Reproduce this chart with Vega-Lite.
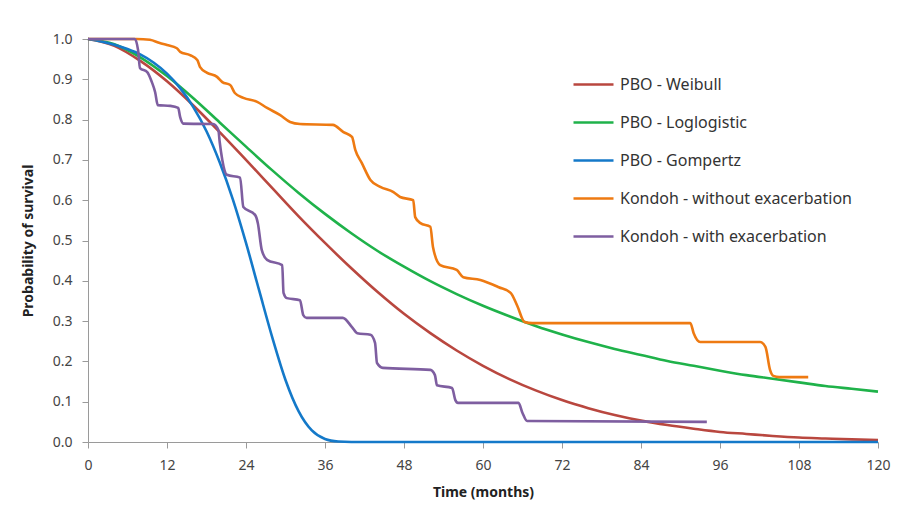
{
  "$schema": "https://vega.github.io/schema/vega-lite/v6.json",
  "width": 790,
  "height": 403,
  "autosize": {"type": "none"},
  "padding": {"left": 88, "top": 39, "right": 30, "bottom": 65},
  "background": "white",
  "config": {
    "view": {"stroke": null},
    "font": "Noto Sans"
  },
  "data": {
    "values": [
      {"series": "PBO - Weibull", "t": 0, "s": 1.0},
      {"series": "PBO - Weibull", "t": 4, "s": 0.983},
      {"series": "PBO - Weibull", "t": 8, "s": 0.945},
      {"series": "PBO - Weibull", "t": 12, "s": 0.895},
      {"series": "PBO - Weibull", "t": 16, "s": 0.835},
      {"series": "PBO - Weibull", "t": 20, "s": 0.769},
      {"series": "PBO - Weibull", "t": 24, "s": 0.700},
      {"series": "PBO - Weibull", "t": 28, "s": 0.630},
      {"series": "PBO - Weibull", "t": 32, "s": 0.560},
      {"series": "PBO - Weibull", "t": 36, "s": 0.494},
      {"series": "PBO - Weibull", "t": 40, "s": 0.431},
      {"series": "PBO - Weibull", "t": 44, "s": 0.372},
      {"series": "PBO - Weibull", "t": 48, "s": 0.318},
      {"series": "PBO - Weibull", "t": 52, "s": 0.270},
      {"series": "PBO - Weibull", "t": 56, "s": 0.227},
      {"series": "PBO - Weibull", "t": 60, "s": 0.189},
      {"series": "PBO - Weibull", "t": 64, "s": 0.156},
      {"series": "PBO - Weibull", "t": 68, "s": 0.128},
      {"series": "PBO - Weibull", "t": 72, "s": 0.104},
      {"series": "PBO - Weibull", "t": 76, "s": 0.084},
      {"series": "PBO - Weibull", "t": 80, "s": 0.067},
      {"series": "PBO - Weibull", "t": 84, "s": 0.053},
      {"series": "PBO - Weibull", "t": 88, "s": 0.042},
      {"series": "PBO - Weibull", "t": 92, "s": 0.033},
      {"series": "PBO - Weibull", "t": 96, "s": 0.025},
      {"series": "PBO - Weibull", "t": 100, "s": 0.020},
      {"series": "PBO - Weibull", "t": 104, "s": 0.015},
      {"series": "PBO - Weibull", "t": 108, "s": 0.011},
      {"series": "PBO - Weibull", "t": 112, "s": 0.0087},
      {"series": "PBO - Weibull", "t": 116, "s": 0.0065},
      {"series": "PBO - Weibull", "t": 120, "s": 0.005},

      {"series": "PBO - Loglogistic", "t": 0, "s": 1.0},
      {"series": "PBO - Loglogistic", "t": 4, "s": 0.987},
      {"series": "PBO - Loglogistic", "t": 8, "s": 0.954},
      {"series": "PBO - Loglogistic", "t": 12, "s": 0.908},
      {"series": "PBO - Loglogistic", "t": 16, "s": 0.853},
      {"series": "PBO - Loglogistic", "t": 20, "s": 0.793},
      {"series": "PBO - Loglogistic", "t": 24, "s": 0.733},
      {"series": "PBO - Loglogistic", "t": 28, "s": 0.674},
      {"series": "PBO - Loglogistic", "t": 32, "s": 0.618},
      {"series": "PBO - Loglogistic", "t": 36, "s": 0.566},
      {"series": "PBO - Loglogistic", "t": 40, "s": 0.518},
      {"series": "PBO - Loglogistic", "t": 44, "s": 0.474},
      {"series": "PBO - Loglogistic", "t": 48, "s": 0.435},
      {"series": "PBO - Loglogistic", "t": 52, "s": 0.399},
      {"series": "PBO - Loglogistic", "t": 56, "s": 0.367},
      {"series": "PBO - Loglogistic", "t": 60, "s": 0.338},
      {"series": "PBO - Loglogistic", "t": 64, "s": 0.312},
      {"series": "PBO - Loglogistic", "t": 68, "s": 0.288},
      {"series": "PBO - Loglogistic", "t": 72, "s": 0.267},
      {"series": "PBO - Loglogistic", "t": 76, "s": 0.248},
      {"series": "PBO - Loglogistic", "t": 80, "s": 0.231},
      {"series": "PBO - Loglogistic", "t": 84, "s": 0.216},
      {"series": "PBO - Loglogistic", "t": 88, "s": 0.201},
      {"series": "PBO - Loglogistic", "t": 92, "s": 0.189},
      {"series": "PBO - Loglogistic", "t": 96, "s": 0.177},
      {"series": "PBO - Loglogistic", "t": 100, "s": 0.166},
      {"series": "PBO - Loglogistic", "t": 104, "s": 0.157},
      {"series": "PBO - Loglogistic", "t": 108, "s": 0.148},
      {"series": "PBO - Loglogistic", "t": 112, "s": 0.139},
      {"series": "PBO - Loglogistic", "t": 116, "s": 0.132},
      {"series": "PBO - Loglogistic", "t": 120, "s": 0.125},

      {"series": "PBO - Gompertz", "t": 0, "s": 1.0},
      {"series": "PBO - Gompertz", "t": 2, "s": 0.994},
      {"series": "PBO - Gompertz", "t": 4, "s": 0.986},
      {"series": "PBO - Gompertz", "t": 6, "s": 0.975},
      {"series": "PBO - Gompertz", "t": 8, "s": 0.961},
      {"series": "PBO - Gompertz", "t": 10, "s": 0.941},
      {"series": "PBO - Gompertz", "t": 12, "s": 0.914},
      {"series": "PBO - Gompertz", "t": 14, "s": 0.878},
      {"series": "PBO - Gompertz", "t": 16, "s": 0.831},
      {"series": "PBO - Gompertz", "t": 18, "s": 0.771},
      {"series": "PBO - Gompertz", "t": 20, "s": 0.694},
      {"series": "PBO - Gompertz", "t": 22, "s": 0.602},
      {"series": "PBO - Gompertz", "t": 24, "s": 0.494},
      {"series": "PBO - Gompertz", "t": 26, "s": 0.376},
      {"series": "PBO - Gompertz", "t": 28, "s": 0.259},
      {"series": "PBO - Gompertz", "t": 30, "s": 0.154},
      {"series": "PBO - Gompertz", "t": 32, "s": 0.076},
      {"series": "PBO - Gompertz", "t": 34, "s": 0.0286},
      {"series": "PBO - Gompertz", "t": 36, "s": 0.0074},
      {"series": "PBO - Gompertz", "t": 38, "s": 0.0012},
      {"series": "PBO - Gompertz", "t": 40, "s": 0.0},
      {"series": "PBO - Gompertz", "t": 60, "s": 0.0},
      {"series": "PBO - Gompertz", "t": 80, "s": 0.0},
      {"series": "PBO - Gompertz", "t": 100, "s": 0.0},
      {"series": "PBO - Gompertz", "t": 120, "s": 0.0},

      {"series": "Kondoh - without exacerbation", "t": 0, "s": 1.0},
      {"series": "Kondoh - without exacerbation", "t": 7.4, "s": 1.0},
      {"series": "Kondoh - without exacerbation", "t": 9.4, "s": 0.998},
      {"series": "Kondoh - without exacerbation", "t": 10.9, "s": 0.99},
      {"series": "Kondoh - without exacerbation", "t": 12, "s": 0.985},
      {"series": "Kondoh - without exacerbation", "t": 13.5, "s": 0.977},
      {"series": "Kondoh - without exacerbation", "t": 14, "s": 0.968},
      {"series": "Kondoh - without exacerbation", "t": 15.5, "s": 0.96},
      {"series": "Kondoh - without exacerbation", "t": 16.6, "s": 0.948},
      {"series": "Kondoh - without exacerbation", "t": 17, "s": 0.931},
      {"series": "Kondoh - without exacerbation", "t": 18.1, "s": 0.916},
      {"series": "Kondoh - without exacerbation", "t": 19.6, "s": 0.906},
      {"series": "Kondoh - without exacerbation", "t": 20.4, "s": 0.893},
      {"series": "Kondoh - without exacerbation", "t": 21.6, "s": 0.886},
      {"series": "Kondoh - without exacerbation", "t": 22.3, "s": 0.866},
      {"series": "Kondoh - without exacerbation", "t": 23.6, "s": 0.854},
      {"series": "Kondoh - without exacerbation", "t": 25.7, "s": 0.844},
      {"series": "Kondoh - without exacerbation", "t": 27.2, "s": 0.829},
      {"series": "Kondoh - without exacerbation", "t": 29.2, "s": 0.811},
      {"series": "Kondoh - without exacerbation", "t": 30.7, "s": 0.794},
      {"series": "Kondoh - without exacerbation", "t": 32.2, "s": 0.789},
      {"series": "Kondoh - without exacerbation", "t": 37.2, "s": 0.787},
      {"series": "Kondoh - without exacerbation", "t": 38.8, "s": 0.769},
      {"series": "Kondoh - without exacerbation", "t": 40.1, "s": 0.757},
      {"series": "Kondoh - without exacerbation", "t": 40.6, "s": 0.725},
      {"series": "Kondoh - without exacerbation", "t": 41.6, "s": 0.692},
      {"series": "Kondoh - without exacerbation", "t": 42.9, "s": 0.65},
      {"series": "Kondoh - without exacerbation", "t": 44.4, "s": 0.633},
      {"series": "Kondoh - without exacerbation", "t": 46.4, "s": 0.62},
      {"series": "Kondoh - without exacerbation", "t": 47.4, "s": 0.608},
      {"series": "Kondoh - without exacerbation", "t": 49.4, "s": 0.6},
      {"series": "Kondoh - without exacerbation", "t": 49.7, "s": 0.558},
      {"series": "Kondoh - without exacerbation", "t": 50.5, "s": 0.543},
      {"series": "Kondoh - without exacerbation", "t": 52, "s": 0.534},
      {"series": "Kondoh - without exacerbation", "t": 52.4, "s": 0.484},
      {"series": "Kondoh - without exacerbation", "t": 53.5, "s": 0.439},
      {"series": "Kondoh - without exacerbation", "t": 56, "s": 0.427},
      {"series": "Kondoh - without exacerbation", "t": 57, "s": 0.409},
      {"series": "Kondoh - without exacerbation", "t": 59.6, "s": 0.402},
      {"series": "Kondoh - without exacerbation", "t": 62.4, "s": 0.384},
      {"series": "Kondoh - without exacerbation", "t": 64.2, "s": 0.37},
      {"series": "Kondoh - without exacerbation", "t": 65.2, "s": 0.338},
      {"series": "Kondoh - without exacerbation", "t": 66.3, "s": 0.298},
      {"series": "Kondoh - without exacerbation", "t": 67.5, "s": 0.295},
      {"series": "Kondoh - without exacerbation", "t": 91.5, "s": 0.295},
      {"series": "Kondoh - without exacerbation", "t": 92, "s": 0.27},
      {"series": "Kondoh - without exacerbation", "t": 93, "s": 0.248},
      {"series": "Kondoh - without exacerbation", "t": 102.1, "s": 0.248},
      {"series": "Kondoh - without exacerbation", "t": 102.9, "s": 0.236},
      {"series": "Kondoh - without exacerbation", "t": 103.6, "s": 0.179},
      {"series": "Kondoh - without exacerbation", "t": 104.1, "s": 0.164},
      {"series": "Kondoh - without exacerbation", "t": 105, "s": 0.161},
      {"series": "Kondoh - without exacerbation", "t": 109.4, "s": 0.161},

      {"series": "Kondoh - with exacerbation", "t": 0, "s": 1.0},
      {"series": "Kondoh - with exacerbation", "t": 7.1, "s": 1.0},
      {"series": "Kondoh - with exacerbation", "t": 7.6, "s": 0.973},
      {"series": "Kondoh - with exacerbation", "t": 7.9, "s": 0.928},
      {"series": "Kondoh - with exacerbation", "t": 9.0, "s": 0.918},
      {"series": "Kondoh - with exacerbation", "t": 9.7, "s": 0.893},
      {"series": "Kondoh - with exacerbation", "t": 10.2, "s": 0.868},
      {"series": "Kondoh - with exacerbation", "t": 10.6, "s": 0.836},
      {"series": "Kondoh - with exacerbation", "t": 12.5, "s": 0.834},
      {"series": "Kondoh - with exacerbation", "t": 13.7, "s": 0.829},
      {"series": "Kondoh - with exacerbation", "t": 14, "s": 0.806},
      {"series": "Kondoh - with exacerbation", "t": 14.5, "s": 0.79},
      {"series": "Kondoh - with exacerbation", "t": 19, "s": 0.789},
      {"series": "Kondoh - with exacerbation", "t": 19.8, "s": 0.774},
      {"series": "Kondoh - with exacerbation", "t": 20.0, "s": 0.745},
      {"series": "Kondoh - with exacerbation", "t": 20.4, "s": 0.70},
      {"series": "Kondoh - with exacerbation", "t": 21.1, "s": 0.663},
      {"series": "Kondoh - with exacerbation", "t": 23.1, "s": 0.656},
      {"series": "Kondoh - with exacerbation", "t": 23.6, "s": 0.583},
      {"series": "Kondoh - with exacerbation", "t": 25.4, "s": 0.563},
      {"series": "Kondoh - with exacerbation", "t": 25.8, "s": 0.543},
      {"series": "Kondoh - with exacerbation", "t": 26.4, "s": 0.476},
      {"series": "Kondoh - with exacerbation", "t": 27.2, "s": 0.452},
      {"series": "Kondoh - with exacerbation", "t": 29.5, "s": 0.439},
      {"series": "Kondoh - with exacerbation", "t": 29.7, "s": 0.37},
      {"series": "Kondoh - with exacerbation", "t": 30.2, "s": 0.357},
      {"series": "Kondoh - with exacerbation", "t": 32.2, "s": 0.352},
      {"series": "Kondoh - with exacerbation", "t": 32.7, "s": 0.315},
      {"series": "Kondoh - with exacerbation", "t": 33.2, "s": 0.308},
      {"series": "Kondoh - with exacerbation", "t": 38.7, "s": 0.308},
      {"series": "Kondoh - with exacerbation", "t": 40.1, "s": 0.285},
      {"series": "Kondoh - with exacerbation", "t": 40.9, "s": 0.27},
      {"series": "Kondoh - with exacerbation", "t": 42.9, "s": 0.266},
      {"series": "Kondoh - with exacerbation", "t": 43.6, "s": 0.246},
      {"series": "Kondoh - with exacerbation", "t": 43.9, "s": 0.196},
      {"series": "Kondoh - with exacerbation", "t": 44.8, "s": 0.184},
      {"series": "Kondoh - with exacerbation", "t": 52, "s": 0.179},
      {"series": "Kondoh - with exacerbation", "t": 52.7, "s": 0.166},
      {"series": "Kondoh - with exacerbation", "t": 53, "s": 0.141},
      {"series": "Kondoh - with exacerbation", "t": 55.3, "s": 0.134},
      {"series": "Kondoh - with exacerbation", "t": 55.8, "s": 0.104},
      {"series": "Kondoh - with exacerbation", "t": 56.2, "s": 0.097},
      {"series": "Kondoh - with exacerbation", "t": 65.4, "s": 0.097},
      {"series": "Kondoh - with exacerbation", "t": 66, "s": 0.072},
      {"series": "Kondoh - with exacerbation", "t": 66.7, "s": 0.052},
      {"series": "Kondoh - with exacerbation", "t": 94, "s": 0.05}
    ]
  },
  "mark": {"type": "line", "strokeWidth": 2.6, "interpolate": "monotone", "clip": false},
  "encoding": {
    "x": {
      "field": "t",
      "type": "quantitative",
      "scale": {"domain": [0, 120], "nice": false, "zero": true},
      "axis": {
        "values": [0, 12, 24, 36, 48, 60, 72, 84, 96, 108, 120],
        "title": "Time (months)",
        "grid": false,
        "domainColor": "#9a9a9a",
        "tickColor": "#9a9a9a",
        "tickSize": 6,
        "labelPadding": 10,
        "labelFontSize": 14,
        "labelColor": "#444444",
        "labelFlush": false,
        "titleFontSize": 14,
        "titleFontWeight": "bold",
        "titleColor": "#222222",
        "titlePadding": 13
      }
    },
    "y": {
      "field": "s",
      "type": "quantitative",
      "scale": {"domain": [0, 1], "nice": false},
      "axis": {
        "values": [0, 0.1, 0.2, 0.3, 0.4, 0.5, 0.6, 0.7, 0.8, 0.9, 1.0],
        "format": ".1f",
        "title": "Probability of survival",
        "grid": false,
        "domainColor": "#9a9a9a",
        "tickColor": "#9a9a9a",
        "tickSize": 6,
        "labelPadding": 10,
        "labelFontSize": 14,
        "labelColor": "#444444",
        "labelFlush": false,
        "titleFontSize": 14,
        "titleFontWeight": "bold",
        "titleColor": "#222222",
        "titleX": -60,
        "titleBaseline": "middle"
      }
    },
    "color": {
      "field": "series",
      "type": "nominal",
      "sort": null,
      "scale": {
        "domain": ["PBO - Weibull", "PBO - Loglogistic", "PBO - Gompertz", "Kondoh - without exacerbation", "Kondoh - with exacerbation"],
        "range": ["#B9473F", "#1FB24A", "#1479C9", "#EE7A12", "#7E5EA0"]
      },
      "legend": {
        "title": null,
        "orient": "none",
        "legendX": 484,
        "legendY": 24,
        "symbolType": "stroke",
        "symbolSize": 1600,
        "symbolStrokeWidth": 2.5,
        "labelFontSize": 16,
        "labelColor": "#333333",
        "labelOffset": 5,
        "labelLimit": 0,
        "rowPadding": 8
      }
    }
  }
}
